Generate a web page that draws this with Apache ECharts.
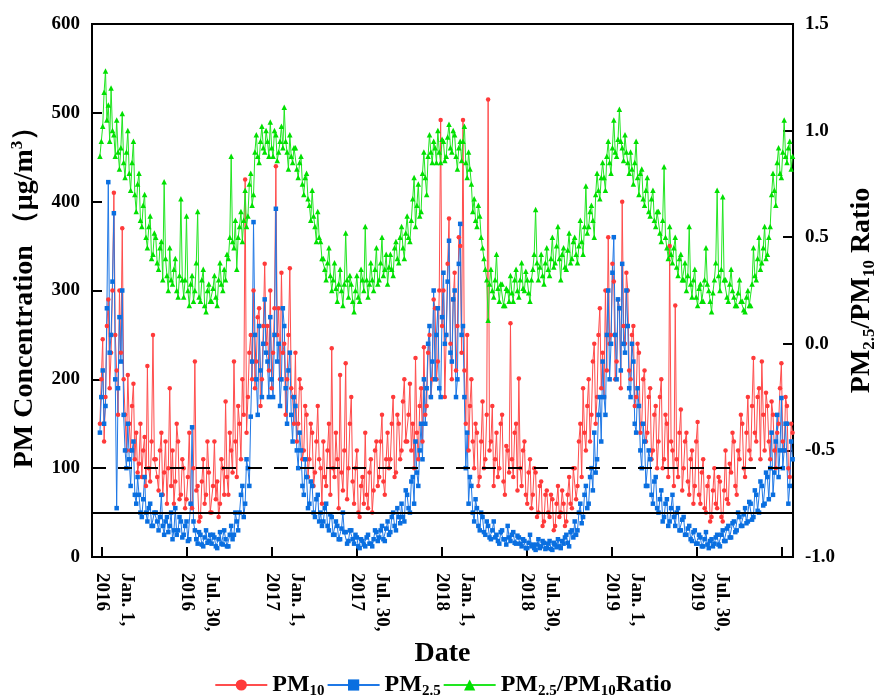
<!DOCTYPE html>
<html>
<head>
<meta charset="utf-8">
<title>PM concentration</title>
<script src="https://cdn.jsdelivr.net/npm/echarts@6/dist/echarts.min.js"></script>
<style>
  html, body { margin: 0; padding: 0; background: #fff; }
  #chart { width: 886px; height: 697px; }
</style>
</head>
<body>
<div id="chart"></div>
<script>
// day 0 = Jan. 1, 2016; one sample every 3 days
const START_DAY = -4
const STEP = 3

const tickDays = [0, 182.5, 365, 547.5, 730, 912.5, 1095, 1277.5, 1460]
// 第三行留空，让第二行对准刻度
const tickLabels = ['Jan. 1,\n2016\n\u00a0', 'Jul. 30,\n2016\n\u00a0', 'Jan. 1,\n2017\n\u00a0', 'Jul. 30,\n2017\n\u00a0',
  'Jan. 1,\n2018\n\u00a0', 'Jul. 30,\n2018\n\u00a0', 'Jan. 1,\n2019\n\u00a0', 'Jul. 30,\n2019\n\u00a0']

const pm10 = [
  150, 200, 245, 130, 180, 260, 290, 190, 230, 300, 410, 250, 210, 160, 300, 230, 370, 200, 160, 120,
  205, 150, 120, 170, 195, 110, 140, 95, 105, 150, 90, 120, 135, 80, 215, 100, 85, 130, 250, 110,
  110, 90, 75, 120, 140, 70, 95, 130, 60, 100, 190, 80, 120, 60, 85, 150, 130, 65, 70, 110,
  100, 55, 65, 90, 140, 60, 55, 100, 220, 75, 80, 40, 45, 85, 110, 60, 70, 130, 95, 50,
  50, 80, 130, 65, 85, 45, 60, 110, 100, 70, 175, 90, 70, 140, 120, 95, 220, 130, 90, 170,
  150, 110, 200, 160, 425, 140, 180, 230, 250, 200, 300, 190, 220, 270, 280, 170, 200, 260, 330, 240,
  260, 210, 300, 190, 230, 280, 440, 250, 280, 200, 320, 230, 240, 160, 200, 250, 325, 190, 180, 150,
  230, 130, 150, 200, 190, 110, 120, 170, 160, 90, 110, 150, 140, 80, 95, 130, 170, 110, 100, 60,
  130, 90, 80, 120, 150, 70, 235, 100, 90, 140, 110, 55, 205, 95, 75, 120, 218, 65, 100, 150,
  180, 85, 60, 100, 120, 50, 45, 80, 90, 60, 140, 70, 55, 95, 110, 50, 75, 120, 130, 80,
  90, 130, 160, 85, 70, 110, 140, 100, 110, 150, 180, 90, 95, 160, 150, 110, 120, 175, 200, 130,
  130, 160, 195, 120, 150, 100, 224, 140, 110, 170, 190, 130, 236, 160, 170, 230, 250, 180, 200, 290,
  280, 200, 220, 300, 492, 260, 300, 180, 250, 330, 381, 240, 200, 290, 320, 210, 260, 360, 350, 230,
  492, 210, 150, 250, 120, 170, 200, 130, 100, 150, 140, 80, 90, 130, 175, 100, 110, 160, 515, 120,
  130, 170, 80, 110, 140, 90, 100, 150, 160, 85, 70, 125, 120, 95, 263, 110, 90, 140, 150, 75,
  201, 100, 80, 120, 130, 70, 60, 95, 110, 55, 70, 100, 95, 45, 50, 80, 85, 35, 40, 70,
  75, 50, 45, 70, 65, 30, 35, 60, 80, 45, 50, 75, 60, 35, 40, 70, 90, 60, 55, 100,
  100, 65, 80, 130, 150, 90, 190, 140, 120, 170, 200, 130, 160, 220, 240, 150, 180, 250, 280, 190,
  230, 180, 300, 210, 360, 240, 250, 330, 310, 200, 220, 290, 280, 190, 400, 260, 240, 320, 300, 210,
  200, 250, 260, 170, 180, 240, 230, 140, 150, 200, 210, 130, 140, 180, 190, 110, 120, 160, 170, 100,
  130, 180, 200, 100, 110, 160, 150, 90, 350, 130, 120, 80, 283, 110, 90, 140, 166, 75, 100, 130,
  140, 85, 70, 110, 120, 60, 80, 130, 152, 70, 60, 95, 110, 55, 50, 80, 90, 40, 45, 75,
  100, 60, 55, 90, 85, 45, 40, 75, 120, 65, 60, 105, 95, 140, 130, 80, 70, 120, 110, 160,
  150, 100, 90, 140, 180, 120, 110, 170, 224, 140, 130, 180, 190, 110, 220, 160, 120, 185, 170, 130,
  110, 175, 160, 120, 100, 140, 150, 190, 218, 130, 120, 180, 170, 100, 90, 150, 140
]

const pm25 = [
  140, 180, 210, 150, 170, 280, 422, 230, 250, 310, 387, 200, 55, 190, 270, 220, 300, 160, 120, 100,
  150, 110, 80, 120, 130, 70, 60, 90, 70, 50, 45, 65, 90, 50, 40, 55, 60, 35, 35, 50,
  50, 40, 30, 45, 70, 35, 25, 40, 45, 28, 35, 50, 20, 30, 55, 25, 30, 45, 40, 22,
  25, 35, 40, 18, 20, 60, 146, 40, 30, 20, 15, 28, 25, 14, 12, 22, 30, 16, 18, 25,
  15, 25, 22, 12, 10, 20, 28, 15, 14, 30, 20, 12, 12, 25, 35, 20, 25, 50, 40, 30,
  50, 70, 80, 45, 60, 110, 100, 80, 158, 220, 377, 250, 200, 160, 260, 210, 180, 240, 290, 230,
  220, 180, 270, 200, 180, 250, 392, 220, 240, 170, 200, 280, 260, 190, 150, 210, 230, 160, 130, 180,
  170, 120, 100, 140, 120, 80, 70, 110, 90, 55, 60, 85, 80, 50, 45, 65, 70, 40, 50, 35,
  40, 55, 60, 35, 30, 48, 45, 25, 25, 40, 35, 20, 20, 32, 50, 28, 28, 15, 18, 30,
  30, 20, 15, 25, 22, 12, 10, 20, 18, 14, 12, 22, 25, 15, 15, 12, 20, 30, 28, 18,
  22, 30, 35, 20, 18, 32, 40, 25, 28, 45, 50, 35, 30, 55, 45, 38, 60, 45, 40, 75,
  70, 55, 50, 85, 90, 60, 130, 95, 80, 120, 150, 110, 200, 150, 190, 240, 260, 180, 220, 300,
  200, 250, 280, 190, 180, 270, 320, 240, 250, 310, 356, 230, 220, 290, 300, 180, 200, 330, 375, 250,
  260, 180, 100, 140, 60, 90, 80, 50, 40, 65, 55, 35, 30, 50, 45, 28, 25, 40, 35, 22,
  20, 30, 40, 22, 25, 18, 15, 28, 30, 20, 20, 14, 35, 22, 18, 25, 28, 16, 15, 24,
  22, 15, 12, 20, 18, 10, 10, 16, 25, 12, 14, 10, 8, 14, 20, 10, 12, 18, 16, 9,
  10, 15, 18, 9, 8, 16, 14, 11, 20, 12, 10, 18, 15, 22, 25, 16, 12, 28, 30, 22,
  40, 25, 30, 50, 60, 38, 45, 70, 80, 55, 60, 90, 100, 75, 140, 95, 110, 160, 180, 130,
  220, 180, 160, 250, 300, 200, 240, 320, 360, 250, 200, 290, 280, 210, 330, 240, 230, 300, 260, 190,
  180, 240, 220, 150, 140, 190, 170, 120, 100, 150, 130, 80, 80, 120, 110, 70, 60, 85, 90, 55,
  50, 65, 75, 40, 45, 60, 65, 35, 40, 55, 70, 45, 35, 50, 55, 30, 30, 42, 45, 25,
  25, 32, 35, 20, 18, 28, 30, 15, 15, 25, 22, 12, 12, 20, 28, 14, 10, 18, 20, 12,
  15, 22, 25, 14, 12, 25, 30, 18, 18, 32, 35, 22, 22, 38, 40, 28, 30, 50, 45, 35,
  35, 48, 55, 38, 40, 62, 60, 42, 45, 75, 70, 52, 50, 85, 80, 58, 60, 95, 90, 65,
  100, 140, 70, 95, 130, 160, 90, 120, 179, 100, 120, 150, 150, 60, 80, 130, 110
]

const ratio = [
  0.88, 0.95, 1.02, 1.18, 1.28, 1.05, 1.12, 0.95, 1.20, 1.00, 0.98, 0.88, 1.05, 0.90, 0.82, 0.92, 1.08, 0.85, 0.78, 0.90,
  1.00, 0.80, 0.72, 0.85, 0.95, 0.70, 0.62, 0.75, 0.80, 0.58, 0.55, 0.65, 0.70, 0.50, 0.45, 0.55, 0.60, 0.40, 0.42, 0.52,
  0.50, 0.38, 0.35, 0.45, 0.48, 0.30, 0.76, 0.40, 0.32, 0.25, 0.45, 0.30, 0.28, 0.35, 0.40, 0.25, 0.22, 0.32, 0.68, 0.30,
  0.22, 0.30, 0.60, 0.25, 0.18, 0.28, 0.32, 0.20, 0.25, 0.38, 0.62, 0.22, 0.20, 0.30, 0.35, 0.18, 0.15, 0.25, 0.28, 0.20,
  0.20, 0.26, 0.32, 0.22, 0.18, 0.30, 0.38, 0.28, 0.25, 0.35, 0.30, 0.42, 0.40, 0.50, 0.88, 0.48, 0.45, 0.58, 0.35, 0.50,
  0.55, 0.62, 0.48, 0.58, 0.72, 0.55, 0.60, 0.75, 0.80, 0.65, 0.70, 0.90, 0.98, 0.88, 0.85, 0.95, 1.02, 0.92, 0.90, 1.00,
  0.95, 0.88, 1.04, 0.92, 0.88, 1.00, 0.98, 0.86, 0.90, 0.95, 1.02, 0.92, 1.11, 0.95, 0.90, 0.82, 0.98, 0.88, 0.85, 0.92,
  0.92, 0.82, 0.78, 0.85, 0.88, 0.75, 0.70, 0.78, 0.80, 0.68, 0.65, 0.58, 0.72, 0.60, 0.55, 0.48, 0.62, 0.50, 0.48, 0.40,
  0.40, 0.35, 0.30, 0.38, 0.45, 0.32, 0.25, 0.30, 0.38, 0.26, 0.20, 0.28, 0.35, 0.25, 0.18, 0.28, 0.52, 0.30, 0.22, 0.32,
  0.28, 0.20, 0.15, 0.25, 0.32, 0.22, 0.20, 0.35, 0.30, 0.25, 0.55, 0.30, 0.22, 0.28, 0.38, 0.30, 0.25, 0.35, 0.45, 0.28,
  0.30, 0.38, 0.50, 0.32, 0.35, 0.42, 0.28, 0.36, 0.42, 0.35, 0.32, 0.45, 0.48, 0.40, 0.38, 0.50, 0.55, 0.45, 0.40, 0.52,
  0.60, 0.50, 0.48, 0.58, 0.68, 0.78, 0.55, 0.65, 0.75, 0.60, 0.62, 0.80, 0.90, 0.78, 0.70, 0.88, 0.98, 0.90, 0.85, 0.95,
  0.92, 0.85, 1.00, 0.90, 0.85, 0.96, 0.95, 0.86, 0.88, 0.97, 1.03, 0.92, 0.90, 1.00, 0.98, 0.88, 0.82, 0.92, 0.95, 0.86,
  0.95, 1.02, 0.85, 0.78, 0.90, 0.82, 0.75, 0.62, 0.68, 0.58, 0.55, 0.65, 0.60, 0.50, 0.45, 0.40, 0.35, 0.30, 0.11, 0.28,
  0.35, 0.25, 0.22, 0.30, 0.42, 0.26, 0.20, 0.28, 0.28, 0.18, 0.18, 0.26, 0.25, 0.20, 0.32, 0.24, 0.20, 0.30, 0.35, 0.25,
  0.22, 0.30, 0.38, 0.26, 0.25, 0.34, 0.30, 0.24, 0.20, 0.30, 0.35, 0.42, 0.63, 0.38, 0.30, 0.36, 0.42, 0.32, 0.28, 0.38,
  0.45, 0.35, 0.32, 0.40, 0.50, 0.36, 0.38, 0.46, 0.55, 0.40, 0.30, 0.42, 0.45, 0.36, 0.35, 0.44, 0.52, 0.38, 0.40, 0.48,
  0.50, 0.42, 0.38, 0.46, 0.58, 0.48, 0.42, 0.55, 0.74, 0.52, 0.55, 0.62, 0.65, 0.58, 0.50, 0.70, 0.80, 0.72, 0.68, 0.78,
  0.85, 0.78, 0.72, 0.88, 0.95, 0.85, 0.80, 0.92, 1.05, 0.90, 0.88, 0.96, 1.10, 0.95, 0.92, 0.86, 0.98, 0.90, 0.85, 0.80,
  0.90, 0.82, 0.75, 0.85, 0.95, 0.78, 0.70, 0.80, 0.82, 0.68, 0.65, 0.72, 0.78, 0.62, 0.60, 0.68, 0.72, 0.58, 0.55, 0.62,
  0.62, 0.52, 0.48, 0.58, 0.83, 0.50, 0.45, 0.40, 0.55, 0.42, 0.38, 0.45, 0.50, 0.36, 0.32, 0.40, 0.42, 0.30, 0.30, 0.38,
  0.25, 0.32, 0.55, 0.28, 0.22, 0.30, 0.35, 0.22, 0.18, 0.26, 0.28, 0.20, 0.20, 0.30, 0.45, 0.28, 0.25, 0.20, 0.15, 0.24,
  0.30, 0.38, 0.72, 0.32, 0.25, 0.35, 0.69, 0.30, 0.30, 0.22, 0.20, 0.28, 0.35, 0.25, 0.22, 0.18, 0.18, 0.24, 0.30, 0.20,
  0.20, 0.16, 0.15, 0.22, 0.25, 0.18, 0.18, 0.28, 0.45, 0.32, 0.30, 0.40, 0.50, 0.35, 0.38, 0.45, 0.55, 0.40, 0.42, 0.50,
  0.55, 0.70, 0.80, 0.72, 0.65, 0.85, 0.92, 0.80, 0.78, 0.90, 1.05, 0.88, 0.85, 0.92, 0.95, 0.82, 0.88
]

const FONT = '"Liberation Serif", "Times New Roman", serif'

const toPoints = arr => arr.map((v, i) => [START_DAY + i * STEP, v])

// 上下标用的富文本样式
const rich = {
  a: { fontFamily: FONT, fontWeight: 'bold', fontSize: 24, lineHeight: 28, color: '#000' },
  s: { fontFamily: FONT, fontWeight: 'bold', fontSize: 15, lineHeight: 15, padding: [13, 0, 0, 0], color: '#000' }
}
const nameRich = {
  a: { fontFamily: FONT, fontWeight: 'bold', fontSize: 28, lineHeight: 32, color: '#000' },
  s: { fontFamily: FONT, fontWeight: 'bold', fontSize: 17, lineHeight: 17, padding: [15, 0, 0, 0], color: '#000' },
  p: { fontFamily: FONT, fontWeight: 'bold', fontSize: 17, lineHeight: 17, padding: [0, 0, 14, 0], color: '#000' }
}
const legendText = {
  'PM10': '{a|PM}{s|10}',
  'PM2.5': '{a|PM}{s|2.5}',
  'Ratio': '{a|PM}{s|2.5}{a|/PM}{s|10}{a|Ratio}'
}

const tickLabelStyle = { fontFamily: FONT, fontWeight: 'bold', fontSize: 19, color: '#000' }

const chart = echarts.init(document.getElementById('chart'))
chart.setOption({
  backgroundColor: '#ffffff',
  animation: false,
  grid: {
    left: 92, right: 81, top: 24, bottom: 140,
    show: true, borderColor: '#000', borderWidth: 2
  },
  legend: {
    top: 666,
    left: 'center',
    itemWidth: 52,
    itemHeight: 14,
    itemGap: 2,
    data: ['PM10', 'PM2.5', 'Ratio'],
    formatter: name => legendText[name],
    textStyle: { rich }
  },
  xAxis: {
    type: 'value',
    min: -21,
    max: 1485,
    name: 'Date',
    nameLocation: 'middle',
    nameGap: 76,
    nameTextStyle: { fontFamily: FONT, fontWeight: 'bold', fontSize: 28, color: '#000' },
    axisLine: { onZero: false, lineStyle: { color: '#000', width: 2 } },
    axisTick: { inside: true, length: 10, customValues: tickDays, lineStyle: { color: '#000', width: 2 } },
    axisLabel: Object.assign({}, tickLabelStyle, {
      customValues: tickDays.slice(0, 8),
      rotate: -90,
      margin: 16,
      lineHeight: 25,
      align: 'left',
      verticalAlign: 'middle',
      formatter: v => tickLabels[tickDays.indexOf(v)]
    }),
    splitLine: { show: false }
  },
  yAxis: [
    {
      type: 'value',
      min: 0,
      max: 600,
      interval: 100,
      name: '{a|PM Concentration （μg/m}{p|3}{a|）}',
      nameLocation: 'middle',
      nameRotate: 90,
      nameGap: 48,
      nameTextStyle: { rich: nameRich },
      axisLine: { show: true, onZero: false, lineStyle: { color: '#000', width: 2 } },
      axisTick: { show: true, inside: true, length: 10, lineStyle: { color: '#000', width: 2 } },
      axisLabel: Object.assign({}, tickLabelStyle, { margin: 12 }),
      splitLine: { show: false }
    },
    {
      type: 'value',
      min: -1,
      max: 1.5,
      interval: 0.5,
      position: 'right',
      name: '{a|PM}{s|2.5}{a|/PM}{s|10}{a| Ratio}',
      nameLocation: 'middle',
      nameRotate: 90,
      nameGap: 48,
      nameTextStyle: { rich: nameRich },
      axisLine: { show: true, onZero: false, lineStyle: { color: '#000', width: 2 } },
      axisTick: { show: true, inside: true, length: 10, lineStyle: { color: '#000', width: 2 } },
      axisLabel: Object.assign({}, tickLabelStyle, { margin: 12, formatter: v => v.toFixed(1) }),
      splitLine: { show: false }
    }
  ],
  series: [
    {
      name: 'PM10',
      type: 'line',
      yAxisIndex: 0,
      data: toPoints(pm10),
      symbol: 'circle',
      symbolSize: 4.5,
      color: '#ff3a3a',
      lineStyle: { width: 1, color: '#ff4d4d' },
      markLine: {
        silent: true,
        symbol: 'none',
        label: { show: false },
        lineStyle: { color: '#000', width: 2 },
        data: [
          { yAxis: 100, lineStyle: { type: [14, 12], color: '#000', width: 2 } },
          { yAxis: 50, lineStyle: { type: 'solid', color: '#000', width: 2 } }
        ]
      }
    },
    {
      name: 'PM2.5',
      type: 'line',
      yAxisIndex: 0,
      data: toPoints(pm25),
      symbol: 'rect',
      symbolSize: 4.5,
      color: '#0a6fe0',
      lineStyle: { width: 1, color: '#1f78e6' }
    },
    {
      name: 'Ratio',
      type: 'line',
      yAxisIndex: 1,
      data: toPoints(ratio),
      symbol: 'triangle',
      symbolSize: 5.5,
      color: '#00e000',
      lineStyle: { width: 1, color: '#22e622' }
    }
  ]
})
</script>
</body>
</html>
